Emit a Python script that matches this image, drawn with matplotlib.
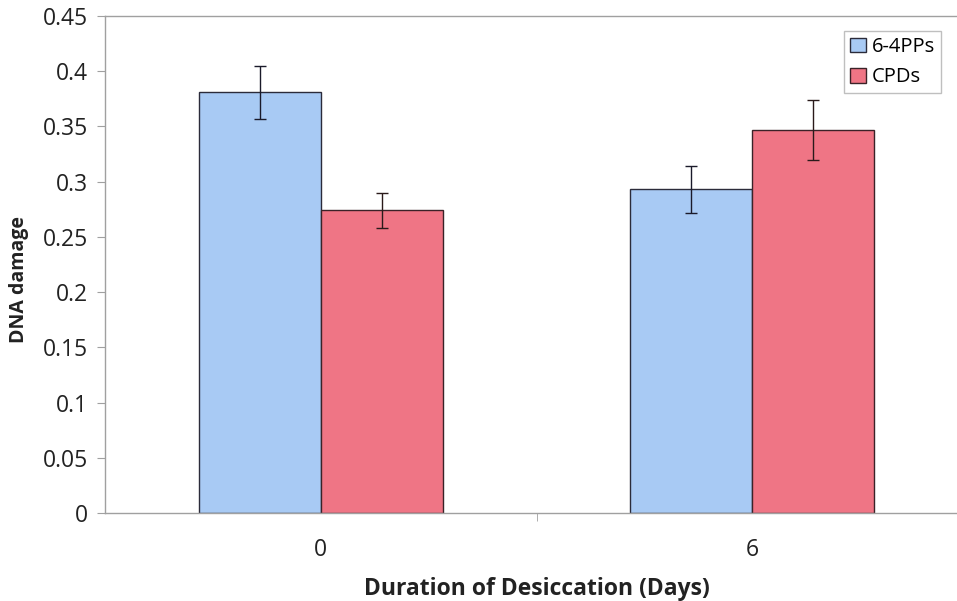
import matplotlib
matplotlib.use("Agg")
import matplotlib.pyplot as plt
import numpy as np

days = ["0", "6"]
series = ["6-4PPs", "CPDs"]
pp64 = [0.381, 0.293]
pp64_err = [0.024, 0.021]
cpd = [0.274, 0.347]
cpd_err = [0.016, 0.027]
yticks = [0, 0.05, 0.1, 0.15, 0.2, 0.25, 0.3, 0.35, 0.4, 0.45]
ytick_labels = ["0", "0.05", "0.1", "0.15", "0.2", "0.25", "0.3", "0.35", "0.4", "0.45"]

plt.rcParams["font.family"] = ["Open Sans", "DejaVu Sans"]

fig = plt.figure(figsize=(9.57, 6.01), dpi=100)
# plot area runs slightly past the right edge of the canvas
ax = fig.add_axes([105 / 957, 1 - 513 / 601, 863 / 957, 497 / 601])

x = np.arange(len(days))
w = 0.283
gray = "#a0a0a0"
ax.bar(x - w / 2, pp64, w, color="#a8caf4", edgecolor="#2b2b3a", linewidth=1.0,
       yerr=pp64_err, capsize=4, error_kw=dict(ecolor="#1a1a2a", elinewidth=1.0, capthick=1.0),
       label=series[0], zorder=2)
ax.bar(x + w / 2, cpd, w, color="#ef7585", edgecolor="#3a2228", linewidth=1.0,
       yerr=cpd_err, capsize=4, error_kw=dict(ecolor="#2a1a1a", elinewidth=1.0, capthick=1.0),
       label=series[1], zorder=2)

ax.set_xlim(-0.5, 1.5)
ax.set_ylim(0, 0.45)
ax.set_yticks(yticks)
ax.set_yticklabels(ytick_labels, fontsize=16.5, color="#222222")
ax.set_xticks(x)
ax.set_xticklabels(days, fontsize=16.5, color="#222222")
ax.set_xticks([0.5], minor=True)
ax.tick_params(axis="x", which="major", length=0, pad=18)
ax.tick_params(axis="x", which="minor", length=6, color=gray, direction="out")
ax.tick_params(axis="y", length=6, color=gray, direction="out", pad=6)

for side in ["left", "bottom", "top"]:
    ax.spines[side].set_color(gray)
    ax.spines[side].set_linewidth(1.0)
ax.spines["right"].set_visible(False)

ax.set_ylabel("DNA damage", fontsize=14, fontweight="bold", color="#222222")
ax.yaxis.set_label_coords(-0.088, 0.47)
ax.set_xlabel("Duration of Desiccation (Days)", fontsize=16.5, fontweight="bold",
              color="#222222", labelpad=11)

leg = ax.legend(loc="upper right", bbox_to_anchor=(951 / 957, 1 - 21 / 601),
                bbox_transform=fig.transFigure, fontsize=14.5, frameon=True,
                fancybox=False, handlelength=0.75, handleheight=0.75,
                handletextpad=0.3, borderpad=0.3, labelspacing=0.5)
leg.get_frame().set_edgecolor("#b0b0b0")
leg.get_frame().set_linewidth(1.0)

fig.savefig("out.png", dpi=100)
